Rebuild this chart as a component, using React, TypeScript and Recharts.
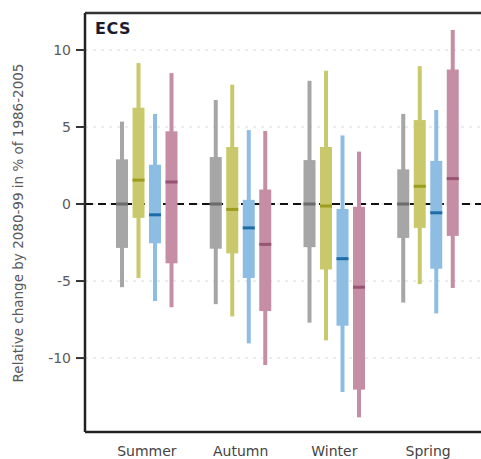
import { Bar, CartesianGrid, ComposedChart, ReferenceLine, XAxis, YAxis } from 'recharts'

// seasons along the x axis
const seasons = ['Summer', 'Autumn', 'Winter', 'Spring']
const yTicks = [-10, -5, 0, 5, 10]

// grey ensemble: whisker ends, box (25-75 %), median
const greyMin = [-5.4, -6.5, -7.7, -6.4]
const greyQ1 = [-2.85, -2.9, -2.8, -2.2]
const greyMed = [0, 0, 0, 0]
const greyQ3 = [2.9, 3.05, 2.85, 2.25]
const greyMax = [5.35, 6.75, 8.0, 5.85]

const yellowMin = [-4.8, -7.3, -8.85, -5.2]
const yellowQ1 = [-0.9, -3.2, -4.25, -1.55]
const yellowMed = [1.55, -0.35, -0.13, 1.15]
const yellowQ3 = [6.25, 3.7, 3.7, 5.45]
const yellowMax = [9.15, 7.75, 8.65, 8.95]

const blueMin = [-6.3, -9.05, -12.2, -7.1]
const blueQ1 = [-2.55, -4.8, -7.9, -4.2]
const blueMed = [-0.7, -1.55, -3.55, -0.57]
const blueQ3 = [2.55, 0.27, -0.32, 2.8]
const blueMax = [5.85, 4.8, 4.45, 6.1]

const pinkMin = [-6.7, -10.45, -13.85, -5.45]
const pinkQ1 = [-3.85, -6.95, -12.05, -2.07]
const pinkMed = [1.43, -2.62, -5.4, 1.65]
const pinkQ3 = [4.72, 0.94, -0.18, 8.73]
const pinkMax = [8.5, 4.74, 3.4, 11.3]

const SERIES = [
  { key: 'grey', fill: '#a6a6a6', dark: '#6b6b6b', min: greyMin, q1: greyQ1, med: greyMed, q3: greyQ3, max: greyMax },
  { key: 'yellow', fill: '#c9c96c', dark: '#9c9c1e', min: yellowMin, q1: yellowQ1, med: yellowMed, q3: yellowQ3, max: yellowMax },
  { key: 'blue', fill: '#8ebde3', dark: '#1b6ca8', min: blueMin, q1: blueQ1, med: blueMed, q3: blueQ3, max: blueMax },
  { key: 'pink', fill: '#c68ea4', dark: '#985372', min: pinkMin, q1: pinkQ1, med: pinkMed, q3: pinkQ3, max: pinkMax },
]

type Stats = { min: number; q1: number; med: number; q3: number; max: number }

const rows = seasons.map((name, i) => {
  const row: Record<string, string | Stats> = { name }
  for (const s of SERIES) {
    row[s.key] = { min: s.min[i], q1: s.q1[i], med: s.med[i], q3: s.q3[i], max: s.max[i] }
  }
  return row
})

const FONT = '"DejaVu Sans", sans-serif'

// bar spans min..max; the box and median are placed on the same linear scale
function BoxShape(props: any) {
  const { x, y, width, height, payload, sk, fill, dark } = props
  const st: Stats = payload[sk]
  const top = Math.min(y, y + height)
  const h = Math.abs(height)
  const py = (v: number) => top + ((st.max - v) / (st.max - st.min)) * h
  const cx = x + width / 2
  return (
    <g>
      <rect x={cx - 2} y={top} width={4} height={h} fill={fill} />
      <rect x={x} y={py(st.q3)} width={width} height={py(st.q1) - py(st.q3)} fill={fill} />
      <rect x={x} y={py(st.med) - 1.5} width={width} height={3} fill={dark} />
    </g>
  )
}

export default function App() {
  return (
    <div
      style={{
        position: 'absolute',
        left: 0,
        top: 0,
        width: 481,
        height: 459,
        overflow: 'hidden',
        background: '#fff',
        fontFamily: FONT,
      }}
    >
      <ComposedChart
        width={490}
        height={459}
        data={rows}
        margin={{ top: 13, right: 0, bottom: 0, left: 0 }}
        barSize={12}
        barGap={4.5}
      >
        <CartesianGrid vertical={false} stroke="#dadada" strokeDasharray="3 5" />
        <CartesianGrid vertical={false} horizontalValues={[0]} stroke="#111" strokeWidth={2} strokeDasharray="8 5" />
        <ReferenceLine y={12.4} stroke="#333" strokeWidth={2.5} />
        <XAxis
          dataKey="name"
          height={27}
          padding={{ left: 15, right: 15 }}
          tickLine={false}
          tickMargin={8}
          axisLine={{ stroke: '#222', strokeWidth: 2.5 }}
          tick={{ fill: '#444', fontSize: 14, fontFamily: FONT }}
        />
        <YAxis
          width={85}
          domain={[-14.8, 12.4]}
          allowDataOverflow
          ticks={yTicks}
          tickSize={9}
          tickMargin={5}
          axisLine={{ stroke: '#222', strokeWidth: 2.5 }}
          tickLine={{ stroke: '#333', strokeWidth: 2 }}
          tick={{ fill: '#5a5a5a', fontSize: 14, fontFamily: FONT }}
        />
        {SERIES.map((s) => (
          <Bar
            key={s.key}
            dataKey={(d: any) => [d[s.key].min, d[s.key].max]}
            fill={s.fill}
            isAnimationActive={false}
            shape={(p: any) => <BoxShape {...p} sk={s.key} fill={s.fill} dark={s.dark} />}
          />
        ))}
      </ComposedChart>
      <div
        style={{
          position: 'absolute',
          left: 95,
          top: 21,
          fontSize: 16,
          lineHeight: '16px',
          fontWeight: 'bold',
          color: '#1b1b2f',
          letterSpacing: 0.5,
        }}
      >
        ECS
      </div>
      <div
        style={{
          position: 'absolute',
          left: 18,
          top: 223,
          transform: 'translate(-50%, -50%) rotate(-90deg)',
          whiteSpace: 'nowrap',
          fontSize: 13.5,
          color: '#5a5a5a',
        }}
      >
        Relative change by 2080-99 in % of 1986-2005
      </div>
    </div>
  )
}
